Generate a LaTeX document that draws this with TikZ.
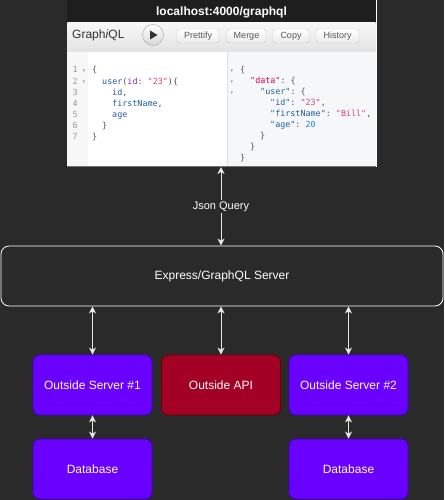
\documentclass[tikz,border=0pt]{standalone}
\usepackage{fontspec}
\setmainfont{Liberation Sans}
\setmonofont{DejaVu Sans Mono}
\newfontfamily\dejavu{DejaVu Sans}
\usetikzlibrary{arrows.meta}
\definecolor{bg}{HTML}{2A2A2A}
\definecolor{titlebar}{HTML}{1E1E1E}
\definecolor{violetfill}{HTML}{6A00FF}
\definecolor{violetline}{HTML}{3700CC}
\definecolor{redfill}{HTML}{A20025}
\definecolor{redline}{HTML}{6F0000}
\definecolor{arrowcol}{HTML}{E6E6E6}
\definecolor{cprop}{HTML}{1F61A0}
\definecolor{cattr}{HTML}{8B2BB9}
\definecolor{cstr}{HTML}{D64292}
\definecolor{cdef}{HTML}{D2054E}
\definecolor{cnum}{HTML}{2882F9}
\definecolor{cpunct}{HTML}{555555}
\definecolor{lnum}{HTML}{999999}
\definecolor{rpane}{HTML}{F6F7F8}
\definecolor{gutter}{HTML}{F7F7F7}
\newcommand\cP[1]{\textcolor{cprop}{#1}}
\newcommand\cA[1]{\textcolor{cattr}{#1}}
\newcommand\cS[1]{\textcolor{cstr}{#1}}
\newcommand\cD[1]{\textcolor{cdef}{#1}}
\newcommand\cN[1]{\textcolor{cnum}{#1}}
\begin{document}
\begin{tikzpicture}[x=1pt,y=-1pt,
  box/.style={rounded corners=7pt, minimum width=119pt, minimum height=60pt,
    text=white, font=\fontsize{12}{14}\selectfont, line width=0.8pt},
  vbox/.style={box, fill=violetfill, draw=violetline},
  rbox/.style={box, fill=redfill, draw=redline},
  link/.style={draw=arrowcol, line width=1pt,
    {Stealth[length=7pt,width=7pt,inset=2pt]}-{Stealth[length=7pt,width=7pt,inset=2pt]}},
  code/.style={anchor=base west, inner sep=0pt, text=cpunct,
    font=\ttfamily\fontsize{8.4}{10}\selectfont},
  lno/.style={anchor=base east, inner sep=0pt, text=lnum,
    font=\ttfamily\fontsize{8.4}{10}\selectfont},
  fold/.style={inner sep=0pt, text=lnum, font=\dejavu\fontsize{5}{6}\selectfont},
  btn/.style={draw=black!22, rounded corners=2.5pt, top color=white, bottom color=black!8,
    minimum height=14pt, inner sep=0pt, text=black!65,
    font=\fontsize{9}{10}\selectfont},
]
\useasboundingbox (0,0) rectangle (444,500);
\fill[bg] (0,0) rectangle (444,500);

% ---------- screenshot ----------
\node[draw=white, line width=0.8pt, fill=white, minimum width=309pt, minimum height=166pt,
  anchor=north west, inner sep=0pt, outer sep=0pt] (shot) at (67,0) {};
\fill[titlebar] (67.4,0) rectangle (375.6,23);
\node[text=white, font=\bfseries\fontsize{12}{14}\selectfont] (title) at (221.5,12.5) {localhost:4000/graphql};
\shade[top color=black!3, bottom color=black!11] (67.4,23) rectangle (375.6,52);
\draw[black!18] (67.4,52) -- (375.6,52);
\node[anchor=west, inner sep=0pt, text=black!80, font=\fontsize{12}{14}\selectfont] (brand) at (72,35) {Graph\textit{i}QL};
\node[circle, draw=black!35, top color=white, bottom color=black!16, minimum size=21pt, inner sep=0pt] (play) at (153,35) {};
\fill[black!80] (150,30.5) -- (150,39.5) -- (157.5,35) -- cycle;
\node[btn, minimum width=42pt] (prettify) at (198,36) {Prettify};
\node[btn, minimum width=39pt] (merge) at (246.5,36) {Merge};
\node[btn, minimum width=36pt] (copy) at (291,36) {Copy};
\node[btn, minimum width=43pt] (history) at (337.5,36) {History};
% panes
\fill[gutter] (67.4,52.5) rectangle (88,165.6);
\fill[white] (88,52.5) rectangle (227,165.6);
\fill[rpane] (227,52.5) rectangle (375.6,165.6);
\draw[black!12] (227,52.5) -- (227,165.6);
\fill[black!55] (67.4,166) rectangle (375.6,167);

% left editor
\foreach \n/\yy in {1/73,2/84.1,3/95.2,4/106.3,5/117.4,6/128.5,7/139.6}
  \node[lno] (ln\n) at (78,\yy) {\n};
\node[fold] (lf1) at (84,71) {▾};
\node[fold] (lf2) at (84,82.1) {▾};
\node[code] (q1) at (92,73) {\{};
\node[code] (q2) at (102,84.1) {\cP{user}(\cA{id}: \cS{"23"})\{};
\node[code] (q3) at (112,95.2) {\cP{id},};
\node[code] (q4) at (112,106.3) {\cP{firstName},};
\node[code] (q5) at (112,117.4) {\cP{age}};
\node[code] (q6) at (102,128.5) {\}};
\node[code] (q7) at (92,139.6) {\}};

% right result
\node[fold] (rf1) at (232,71) {▾};
\node[fold] (rf2) at (232,82) {▾};
\node[fold] (rf3) at (232,93) {▾};
\node[code] (r1) at (240,73) {\{};
\node[code] (r2) at (250,84) {\cD{"data"}: \{};
\node[code] (r3) at (260,95) {\cP{"user"}: \{};
\node[code] (r4) at (270,106) {\cP{"id"}: \cS{"23"},};
\node[code] (r5) at (270,117) {\cP{"firstName"}: \cS{"Bill"},};
\node[code] (r6) at (270,128) {\cP{"age"}: \cN{20}};
\node[code] (r7) at (260,139) {\}};
\node[code] (r8) at (250,149.5) {\}};
\node[code] (r9) at (240,160) {\}};

% ---------- diagram ----------
\node[draw=white, line width=0.8pt, rounded corners=8pt, minimum width=442pt, minimum height=60pt,
  text=white, font=\fontsize{12}{14}\selectfont] (server) at (222,276) {Express/GraphQL Server};

\node[vbox] (os1) at (92.5,385) {Outside Server \#1};
\node[rbox] (api) at (221,385) {Outside API};
\node[vbox] (os2) at (348.5,385) {Outside Server \#2};
\node[vbox] (db1) at (92.5,469) {Database};
\node[vbox] (db2) at (348.5,469) {Database};

\coordinate (jtop) at (221,167);
\draw[link] (jtop) -- (jtop |- server.north)
  node[pos=0.5, fill=bg, inner sep=1.5pt, text=white, font=\fontsize{11}{13}\selectfont] (jq) {Json Query};
\draw[link] (server.south -| os1.north) -- (os1.north);
\draw[link] (server.south -| api.north) -- (api.north);
\draw[link] (server.south -| os2.north) -- (os2.north);
\draw[link] (os1.south) -- (db1.north);
\draw[link] (os2.south) -- (db2.north);
\end{tikzpicture}
\end{document}
